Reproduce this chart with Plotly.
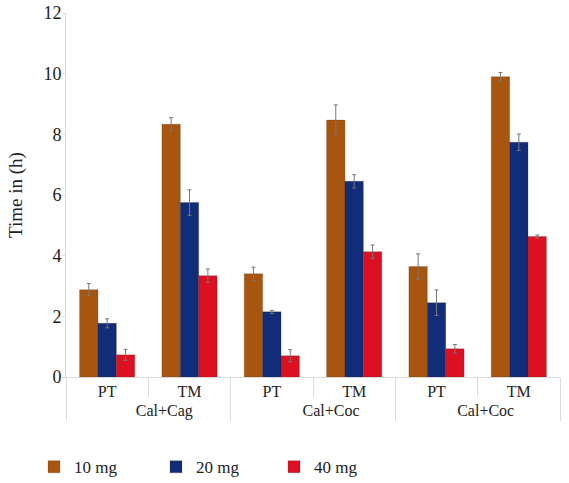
import plotly.graph_objects as go

NB = "\u00a0"
group_labels = [NB * 8 + "Cal+Cag", NB * 9 + "Cal+Coc", NB * 4 + "Cal+Coc"]
groups = [group_labels[0], group_labels[0], group_labels[1], group_labels[1],
          group_labels[2], group_labels[2]]
params = ["PT", "TM", "PT", "TM", "PT", "TM"]

series_names = ["10 mg", "20 mg", "40 mg"]
vals_10 = [2.88, 8.33, 3.4, 8.47, 3.64, 9.9]
vals_20 = [1.77, 5.75, 2.15, 6.45, 2.45, 7.74]
vals_40 = [0.73, 3.34, 0.7, 4.13, 0.93, 4.63]
err_10 = [0.2, 0.22, 0.22, 0.5, 0.42, 0.14]
err_20 = [0.15, 0.42, 0.05, 0.22, 0.42, 0.27]
err_40 = [0.18, 0.22, 0.2, 0.22, 0.14, 0.05]
colors = ["#A8560F", "#112C78", "#DC1020"]

fam = "Liberation Serif"

fig = go.Figure()
legend_ids = ["legend2", "legend3", "legend4"]
for name, vals, errs, col, lg in zip(series_names, [vals_10, vals_20, vals_40],
                                     [err_10, err_20, err_40], colors, legend_ids):
    fig.add_trace(go.Bar(
        x=[groups, params], y=vals, name=name,
        marker=dict(color=col, line=dict(color="rgba(60,30,10,0.35)", width=0.6)),
        error_y=dict(type="data", array=errs, visible=True, color="#777777",
                     thickness=1, width=2),
        legend=lg, showlegend=True,
    ))

leg_common = dict(orientation="h", yanchor="top",
                  xref="container", yref="container", y=0.07,
                  font=dict(family=fam, size=17, color="#222"),
                  bgcolor="rgba(0,0,0,0)")
fig.update_layout(
    width=569, height=483,
    showlegend=True,
    margin=dict(l=66, r=9, t=13, b=106, autoexpand=False),
    paper_bgcolor="white", plot_bgcolor="white",
    barmode="group", bargap=0.33, bargroupgap=0,
    font=dict(family=fam, size=16, color="#222"),
    legend2=dict(x=34 / 569, xanchor="left", **leg_common),
    legend3=dict(x=156 / 569, xanchor="left", **leg_common),
    legend4=dict(x=274 / 569, xanchor="left", **leg_common),
    xaxis=dict(type="multicategory", showline=True, linecolor="#d9d9d9", linewidth=1,
               ticks="outside", ticklen=19, tickcolor="#dddddd",
               showdividers=True, dividercolor="#dddddd", dividerwidth=1,
               tickfont=dict(family=fam, size=16, color="#222"),
               showgrid=False, zeroline=False),
    yaxis=dict(range=[0, 12], dtick=2, showline=True, linecolor="#d9d9d9", linewidth=1,
               ticks="outside", ticklen=3, tickcolor="#dddddd",
               ticklabelstandoff=-3,
               showgrid=False, zeroline=False,
               tickfont=dict(family=fam, size=18, color="#222"),
               title=dict(text="Time in (h)", standoff=15,
                          font=dict(family=fam, size=19, color="#222"))),
)

# plotly keeps legends inside the paper with autoexpand off; widen the check below
fig.write_html("out.html", config={"displayModeBar": False},
               post_script="document.body.style.margin='0';")
